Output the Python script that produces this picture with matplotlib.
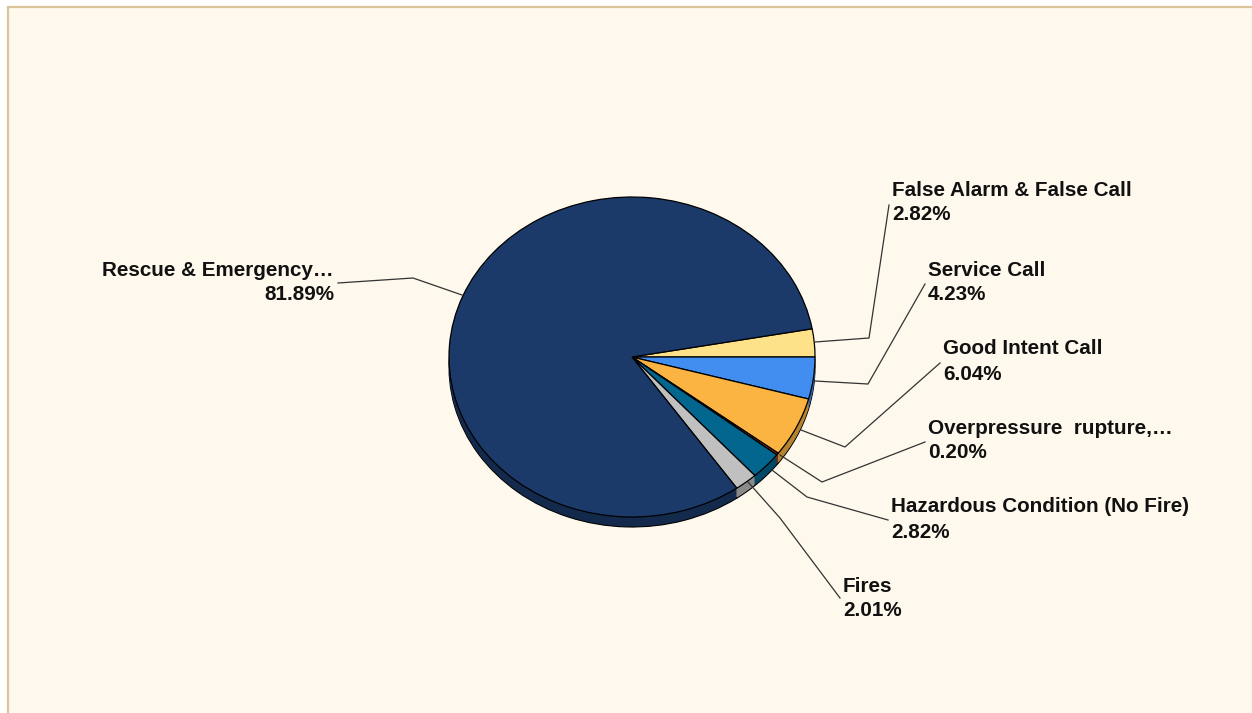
import numpy as np
import matplotlib.pyplot as plt
from matplotlib.patches import Rectangle
from matplotlib.transforms import Affine2D
import matplotlib.colors as mcolors

# slice data, clockwise from the start angle
labels = ['False Alarm & False Call', 'Service Call', 'Good Intent Call',
          'Overpressure  rupture,\u2026', 'Hazardous Condition (No Fire)',
          'Fires', 'Rescue & Emergency\u2026']
values = [2.82, 4.23, 6.04, 0.20, 2.82, 2.01, 81.89]
colors = ['#fde289', '#428ef0', '#fbb441', '#9c3412', '#03668f', '#c0c0c0', '#1b3a6a']

W, H = 1252, 713
CX, CY = 632, H - 357      # pie centre (pixel coords, y up)
RX, RY = 183, 160          # ellipse radii
DEPTH = 10
START = 360 * values[0] / 100.0   # first slice sits just above 3 o'clock

fig = plt.figure(figsize=(W / 100, H / 100), dpi=100, facecolor='white')
ax = fig.add_axes([0, 0, 1, 1])
ax.set_xlim(0, W)
ax.set_ylim(0, H)
ax.axis('off')

ax.add_patch(Rectangle((8, -10), W + 20, H - 7 + 10, facecolor='#fef8ed',
                       edgecolor='#dcc49a', lw=1.6, zorder=0))


def squash(cy):
    return Affine2D().translate(-CX, -cy).scale(1, RY / RX).translate(CX, cy) + ax.transData


def darker(c, f=0.72):
    r, g, b = mcolors.to_rgb(c)
    return (r * f, g * f, b * f)


side = [darker(c) for c in colors]

# bottom outline and side wall
wedges, _ = ax.pie(values, colors=side, startangle=START, counterclock=False,
                   center=(CX, CY - DEPTH), radius=RX,
                   wedgeprops=dict(edgecolor='black', linewidth=0.8))
for w in wedges:
    w.set_transform(squash(CY - DEPTH))
for d in range(DEPTH - 1, 0, -1):
    wedges, _ = ax.pie(values, colors=side, startangle=START, counterclock=False,
                       center=(CX, CY - d), radius=RX,
                       wedgeprops=dict(edgecolor='none', linewidth=0))
    for w in wedges:
        w.set_transform(squash(CY - d))

# top face
wedges, _ = ax.pie(values, colors=colors, startangle=START, counterclock=False,
                   center=(CX, CY), radius=RX,
                   wedgeprops=dict(edgecolor='black', linewidth=0.9))
for w in wedges:
    w.set_transform(squash(CY))

ax.set_xlim(0, W)
ax.set_ylim(0, H)
ax.set_aspect('auto')

# leader lines (pixel coords, y down) and label anchors
leaders = [
    [(815, 342), (869, 338), (889, 205)],
    [(815, 381), (868, 384), (925, 284)],
    [(801, 430), (845, 447), (940, 363)],
    [(780, 455), (822, 482), (925, 442)],
    [(772, 470), (807, 497), (888, 520)],
    [(748, 482), (780, 518), (840, 598)],
    [(462, 295), (413, 278), (338, 283)],
]
anchors = [(892, 190), (928, 270), (943, 349), (928, 428), (891, 507),
           (843, 586), (334, 270)]

for lab, val, pts, (tx, ty) in zip(labels, values, leaders, anchors):
    xs = [p[0] for p in pts]
    ys = [H - p[1] for p in pts]
    ax.plot(xs, ys, color='#333333', lw=0.9, zorder=5)
    ha = 'right' if tx < CX else 'left'
    ax.text(tx, H - ty, lab, ha=ha, va='center', fontsize=14.9,
            fontweight='bold', family='Liberation Sans', color='#111111')
    ax.text(tx, H - ty - 25, f'{val:.2f}%', ha=ha, va='center', fontsize=14.9,
            fontweight='bold', family='Liberation Sans', color='#111111')

plt.savefig('out.png', dpi=100, facecolor=fig.get_facecolor())
